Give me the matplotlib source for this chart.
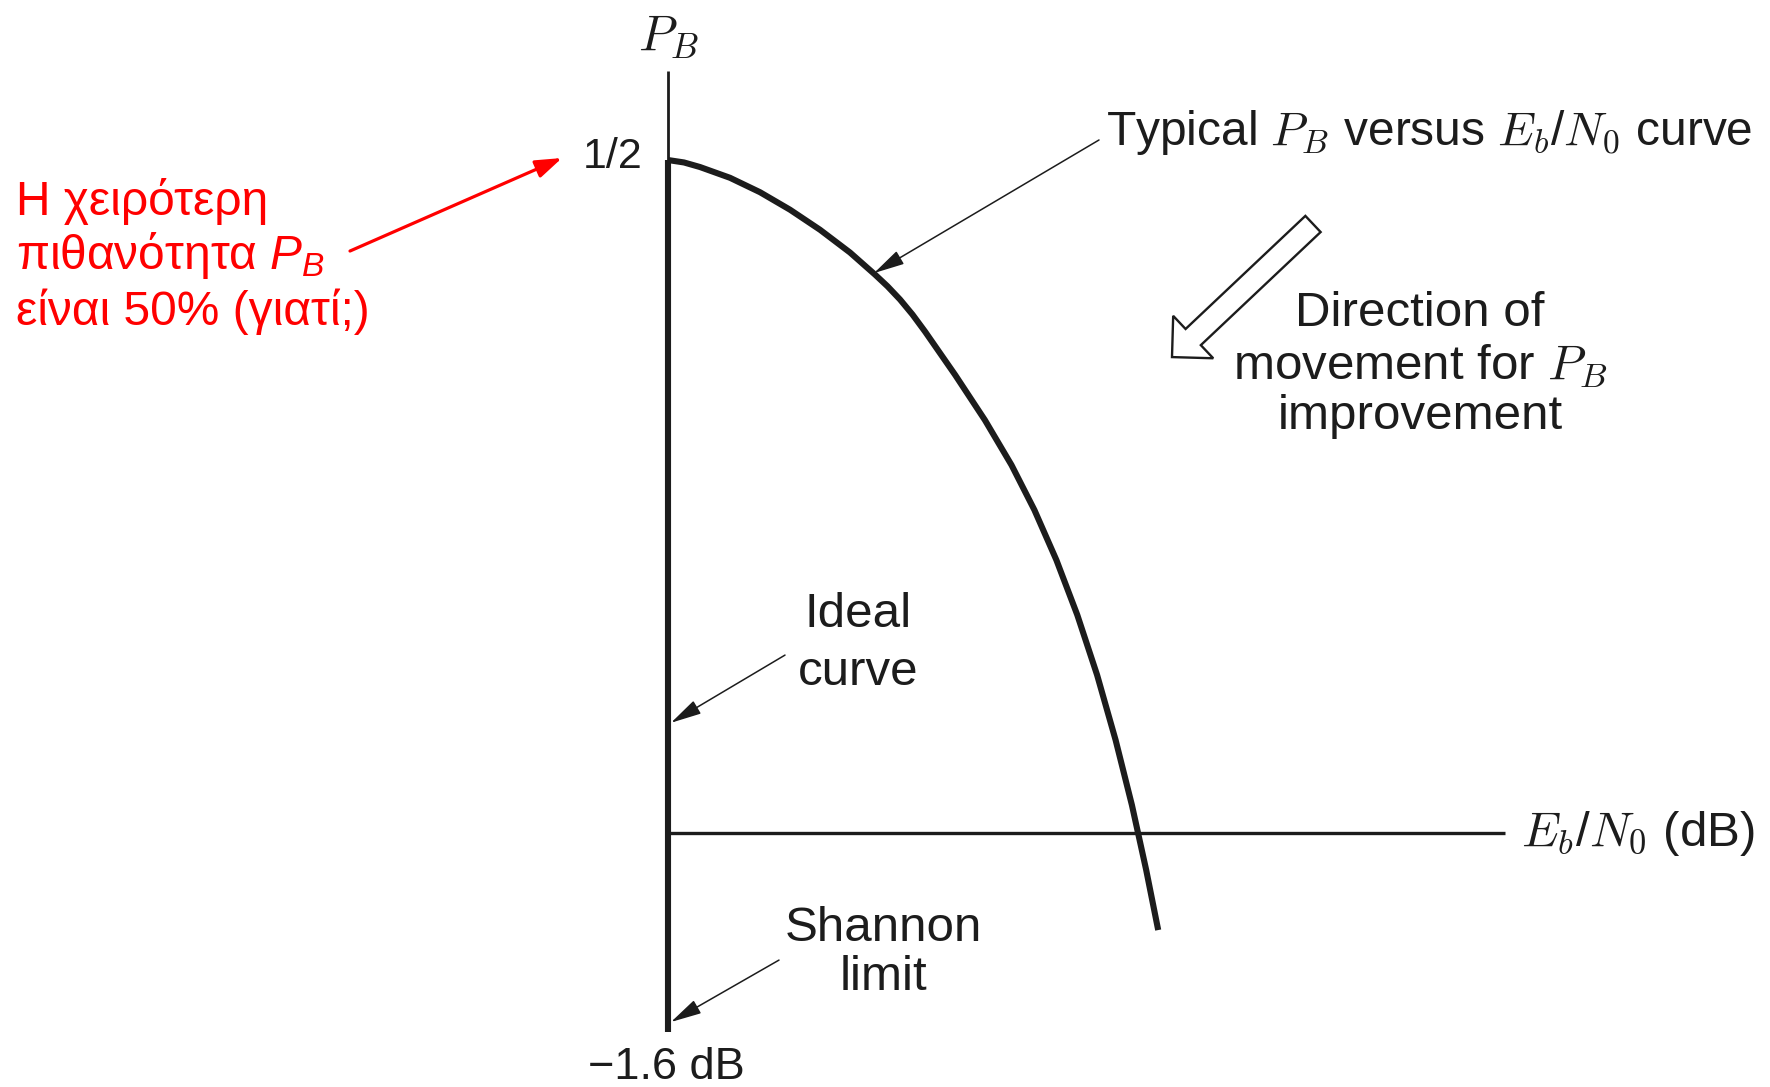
import matplotlib
matplotlib.use("Agg")
import matplotlib.pyplot as plt
from matplotlib.patches import FancyArrowPatch, ArrowStyle

# ---------------- data (schematic units: x = Eb/N0 in dB, y = P_B) ----------------
shannon_limit_db = -1.6
pb_worst = 0.5
curve_x = [-1.600, -1.440, -1.280, -0.980, -0.680, -0.380, -0.080, 0.220, 0.470, 0.595,
           0.720, 0.845, 0.970, 1.272, 1.569, 1.835, 2.064, 2.284, 2.493, 2.691, 2.876,
           3.039, 3.182, 3.302]
curve_y = [0.5000, 0.4982, 0.4948, 0.4868, 0.4761, 0.4631, 0.4482, 0.4313, 0.4149, 0.4062,
           0.3964, 0.3852, 0.3726, 0.3403, 0.3068, 0.2734, 0.2400, 0.2028, 0.1620, 0.1174,
           0.0691, 0.0208, -0.0275, -0.0721]
axis_top = 0.566
axis_bottom = -0.148
xaxis_end = 6.77

label_pb = r"$P_B$"
label_half = "1/2"
label_limit = "\u22121.6 dB"
label_xaxis = r"$E_b$/$N_0$ (dB)"
label_typical = r"Typical $P_B$ versus $E_b$/$N_0$ curve"
label_direction = ["Direction of", r"movement for $P_B$", "improvement"]
label_ideal = ["Ideal", "curve"]
label_shannon = ["Shannon", "limit"]
label_red = ["Η χειρότερη", r"πιθανότητα $P_B$", "είναι 50% (γιατί;)"]

# ---------------- style ----------------
plt.rcParams['font.family'] = ['Liberation Sans', 'DejaVu Sans']
plt.rcParams['mathtext.fontset'] = 'cm'
plt.rcParams['mathtext.rm'] = 'Liberation Sans'
plt.rcParams['mathtext.it'] = 'Liberation Sans:italic'
plt.rcParams['mathtext.bf'] = 'Liberation Sans:bold'

ink = '#1c1c1c'
red = '#ff0000'
fs = 35.5

fig = plt.figure(figsize=(17.7, 10.87), dpi=100)
ax = fig.add_axes([0, 0, 1, 1])
ax.set_xlim(-8.28, 9.42)
ax.set_ylim(-0.1887, 0.6189)
ax.axis('off')

# axes of the schematic
ax.plot([shannon_limit_db, shannon_limit_db], [pb_worst, axis_top], color=ink, lw=2.0,
        solid_capstyle='butt')
ax.plot([shannon_limit_db, shannon_limit_db], [axis_bottom, pb_worst], color=ink, lw=4.4,
        solid_capstyle='butt')
ax.plot([shannon_limit_db, xaxis_end], [0, 0], color=ink, lw=2.4, solid_capstyle='butt')

# typical curve
ax.plot(curve_x, curve_y, color=ink, lw=4.4, solid_capstyle='butt', solid_joinstyle='round')

# labels on axes
ax.text(shannon_limit_db, 0.5914, label_pb, fontsize=36, ha='center', va='center',
        color=ink, math_fontfamily='cm')
ax.text(-1.85, 0.5022, label_half, fontsize=31, ha='right', va='center', color=ink)
ax.text(-1.62, -0.1745, label_limit, fontsize=32.5, ha='center', va='center', color=ink)
ax.text(6.93, 0.0, label_xaxis, fontsize=fs, ha='left', va='center', color=ink,
        math_fontfamily='cm')

# annotations
thin_head = ArrowStyle('-|>', head_length=19, head_width=4.6)


def leader(p0, p1, color=ink, lw=1.1, style=thin_head):
    a = FancyArrowPatch(p0, p1, arrowstyle=style, mutation_scale=1, color=color, lw=lw,
                        shrinkA=0, shrinkB=0)
    ax.add_patch(a)


ax.text(2.78, 0.5201, label_typical, fontsize=34.5, ha='left', va='center', color=ink,
        math_fontfamily='cm')
leader((2.71, 0.5149), (0.46, 0.4160))

for txt, yy in zip(label_direction, [0.3863, 0.3470, 0.3091]):
    ax.text(5.92, yy, txt, fontsize=fs, ha='center', va='center', color=ink,
            math_fontfamily='cm')

hollow = FancyArrowPatch((4.85, 0.4525), (3.44, 0.3536),
                         arrowstyle=ArrowStyle('simple', head_length=21, head_width=42,
                                               tail_width=16),
                         mutation_scale=1, facecolor='white', edgecolor=ink, lw=1.7,
                         shrinkA=0, shrinkB=0, joinstyle='miter')
ax.add_patch(hollow)

for txt, yy in zip(label_ideal, [0.1620, 0.1196]):
    ax.text(0.30, yy, txt, fontsize=fs, ha='center', va='center', color=ink)
leader((-0.43, 0.1322), (-1.57, 0.0819))

for txt, yy in zip(label_shannon, [-0.0706, -0.1077]):
    ax.text(0.55, yy, txt, fontsize=fs, ha='center', va='center', color=ink)
leader((-0.49, -0.0944), (-1.57, -0.1404))

# red note
for txt, yy in zip(label_red, [0.4695, 0.4294, 0.3874]):
    ax.text(-8.12, yy, txt, fontsize=34.5, ha='left', va='center', color=red,
            math_fontfamily='custom')
leader((-4.78, 0.4324), (-2.66, 0.5015), color=red, lw=2.3,
       style=ArrowStyle('-|>', head_length=16, head_width=5.5))

fig.savefig('out.png', dpi=100, facecolor='white')
